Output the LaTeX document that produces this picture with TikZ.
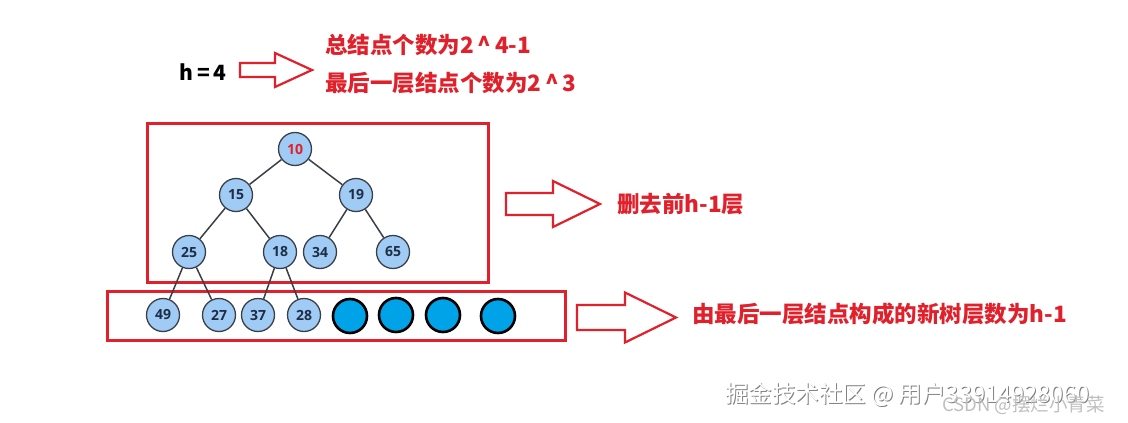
\documentclass[tikz,border=0pt]{standalone}
\usepackage{fontspec}
\newfontfamily\cjk{Noto Sans CJK SC}
\newfontfamily\numfont{Open Sans}
\definecolor{myred}{HTML}{E0202A}
\definecolor{nodefill}{HTML}{9FCBF5}
\definecolor{nodeedge}{HTML}{3A3F47}
\definecolor{nodetext}{HTML}{1F2D45}
\definecolor{leafblue}{HTML}{00A2E8}
\newcommand{\myhollowarrow}[7]{% left, headbase, tip, yc, body half, head half, name
  \draw[redline] (#1,#4-#5) -- (#2,#4-#5) -- (#2,#4-#6) -- (#3,#4) -- (#2,#4+#6) -- (#2,#4+#5) -- (#1,#4+#5) -- cycle;
  \coordinate (#7) at (#3,#4);}
\tikzset{
  redline/.style={draw=myred, line width=2.2pt, line join=miter},
  redbox/.style={draw=myred, line width=3pt},
  tnode/.style={circle, minimum size=33pt, inner sep=0pt, fill=nodefill, draw=nodeedge, line width=1.3pt, font=\numfont\bfseries\fontsize{14}{14}\selectfont, text=nodetext},
  leaf/.style={circle, minimum size=34pt, inner sep=0pt, fill=leafblue, draw=black, line width=2.6pt},
  edge/.style={draw=nodeedge, line width=1.5pt},
  redtxt/.style={anchor=west, inner sep=0pt, text=myred, font=\cjk\bfseries\fontsize{22.5}{22.5}\selectfont},
}
\begin{document}
\begin{tikzpicture}[x=1pt,y=-1pt]
\useasboundingbox (0,0) rectangle (1128,423);
% header
\node[inner sep=0pt, font=\cjk\bfseries\fontsize{21}{21}\selectfont] (h) at (203,72) {h\,=\,4};
\myhollowarrow{240}{275}{312}{70}{7}{17}{a1}
\node[redtxt] (t1) at (325,45) {总结点个数为2\,\^{}\,4-1};
\node[redtxt] (t2) at (325,83) {最后一层结点个数为2\,\^{}\,3};
% boxes
\draw[redbox] (147,123) rectangle (488,282);
\draw[redbox] (107,291) rectangle (565,340);
% tree nodes
\node[tnode, text=myred] (n10) at (295,149) {10};
\node[tnode] (n15) at (236,195) {15};
\node[tnode] (n19) at (356,195) {19};
\node[tnode] (n25) at (189,252) {25};
\node[tnode] (n18) at (280,252) {18};
\node[tnode] (n34) at (320,252) {34};
\node[tnode] (n65) at (393,252) {65};
\node[tnode] (n49) at (163,315) {49};
\node[tnode] (n27) at (219,315) {27};
\node[tnode] (n37) at (258,315) {37};
\node[tnode] (n28) at (304,315) {28};
\node[leaf] (l1) at (350,316) {};
\node[leaf] (l2) at (396,315) {};
\node[leaf] (l3) at (443,315) {};
\node[leaf] (l4) at (498,316) {};
\draw[edge] (n10) -- (n15);
\draw[edge] (n10) -- (n19);
\draw[edge] (n15) -- (n25);
\draw[edge] (n15) -- (n18);
\draw[edge] (n19) -- (n34);
\draw[edge] (n19) -- (n65);
\draw[edge] (n25) -- (n49);
\draw[edge] (n25) -- (n27);
\draw[edge] (n18) -- (n37);
\draw[edge] (n18) -- (n28);
% side arrows
\myhollowarrow{506}{553}{600}{204}{11}{23}{a2}
\node[redtxt] (t3) at (617,204) {删去前h-1层};
\myhollowarrow{577}{625}{676}{317.5}{12.5}{25}{a3}
\node[redtxt] (t4) at (692,314) {由最后一层结点构成的新树层数为h-1};
% watermarks
\node[anchor=west, inner sep=0pt, text=gray, font=\cjk\fontsize{23.5}{23.5}\selectfont] (w0) at (726,396) {掘金技术社区 @ 用户33914928060};
\node[anchor=west, inner sep=0pt, text=white, font=\cjk\fontsize{23.5}{23.5}\selectfont] (w1) at (725,395) {掘金技术社区 @ 用户33914928060};
\node[anchor=west, inner sep=0pt, text=black!25, font=\cjk\fontsize{18.5}{18.5}\selectfont] (w2) at (942,405) {CSDN @摆烂小青菜};
\end{tikzpicture}
\end{document}
